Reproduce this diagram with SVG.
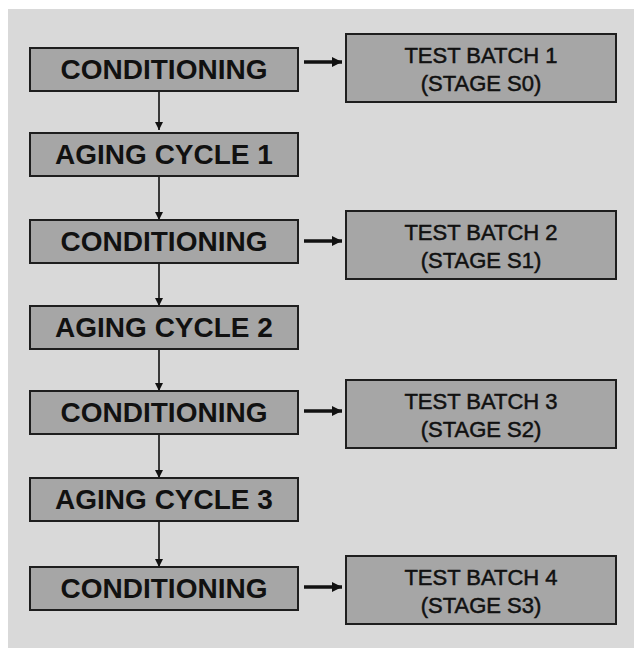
<svg xmlns="http://www.w3.org/2000/svg" width="634" height="648" viewBox="0 0 634 648">
<defs>
<style>
.box{fill:#a6a6a6;stroke:#1e1e1e;stroke-width:2}
.lt{font-family:"Liberation Sans",Arial,sans-serif;font-weight:bold;font-size:28px;fill:#111;text-anchor:middle}
.rt{font-family:"Liberation Sans",Arial,sans-serif;font-size:22px;fill:#111;stroke:#111;stroke-width:0.5;text-anchor:middle}
.v{stroke:#111;stroke-width:1.6;fill:none}
.h{stroke:#111;stroke-width:3.5;fill:none}
</style>
<marker id="ah" viewBox="0 0 10 10" refX="10" refY="5" markerWidth="8" markerHeight="8" markerUnits="userSpaceOnUse" orient="auto"><path d="M0,0 L10,5 L0,10 z" fill="#111"/></marker>
<marker id="ah2" viewBox="0 0 10 10" refX="10" refY="5" markerWidth="3" markerHeight="3" orient="auto"><path d="M0,0 L10,5 L0,10 z" fill="#111"/></marker>
</defs>
<rect x="0" y="0" width="634" height="648" fill="#ffffff"/>
<rect x="8" y="9" width="626" height="639" fill="#d9d9d9"/>
<g id="connectors">
<line class="v" x1="159" y1="91" x2="159" y2="130" marker-end="url(#ah)"/>
<line class="v" x1="159" y1="176" x2="159" y2="220" marker-end="url(#ah)"/>
<line class="v" x1="159" y1="263" x2="159" y2="306" marker-end="url(#ah)"/>
<line class="v" x1="159" y1="349" x2="159" y2="391" marker-end="url(#ah)"/>
<line class="v" x1="159" y1="434" x2="159" y2="478" marker-end="url(#ah)"/>
<line class="v" x1="159" y1="521" x2="159" y2="567" marker-end="url(#ah)"/>
<line class="h" x1="304" y1="62" x2="342" y2="62" stroke-width="5" marker-end="url(#ah2)"/>
<line class="h" x1="304" y1="241" x2="342" y2="241" marker-end="url(#ah2)"/>
<line class="h" x1="304" y1="411" x2="342" y2="411" marker-end="url(#ah2)"/>
<line class="h" x1="304" y1="587" x2="342" y2="587" marker-end="url(#ah2)"/>
</g>
<g id="cond1"><rect class="box" x="30" y="48" width="268" height="43"/><text class="lt" x="164" y="79">CONDITIONING</text></g>
<g id="aging1"><rect class="box" x="30" y="133" width="268" height="43"/><text class="lt" x="164" y="164">AGING CYCLE 1</text></g>
<g id="cond2"><rect class="box" x="30" y="220" width="268" height="43"/><text class="lt" x="164" y="251">CONDITIONING</text></g>
<g id="aging2"><rect class="box" x="30" y="306" width="268" height="43"/><text class="lt" x="164" y="337">AGING CYCLE 2</text></g>
<g id="cond3"><rect class="box" x="30" y="391" width="268" height="43"/><text class="lt" x="164" y="422">CONDITIONING</text></g>
<g id="aging3"><rect class="box" x="30" y="478" width="268" height="43"/><text class="lt" x="164" y="509">AGING CYCLE 3</text></g>
<g id="cond4"><rect class="box" x="30" y="567" width="268" height="43"/><text class="lt" x="164" y="598">CONDITIONING</text></g>
<g id="test1"><rect class="box" x="346" y="34" width="270" height="68"/><text class="rt" x="481" y="63">TEST BATCH 1</text><text class="rt" x="481" y="91">(STAGE S0)</text></g>
<g id="test2"><rect class="box" x="346" y="211" width="270" height="68"/><text class="rt" x="481" y="240">TEST BATCH 2</text><text class="rt" x="481" y="268">(STAGE S1)</text></g>
<g id="test3"><rect class="box" x="346" y="380" width="270" height="68"/><text class="rt" x="481" y="409">TEST BATCH 3</text><text class="rt" x="481" y="437">(STAGE S2)</text></g>
<g id="test4"><rect class="box" x="346" y="556" width="270" height="68"/><text class="rt" x="481" y="585">TEST BATCH 4</text><text class="rt" x="481" y="613">(STAGE S3)</text></g>
</svg>
